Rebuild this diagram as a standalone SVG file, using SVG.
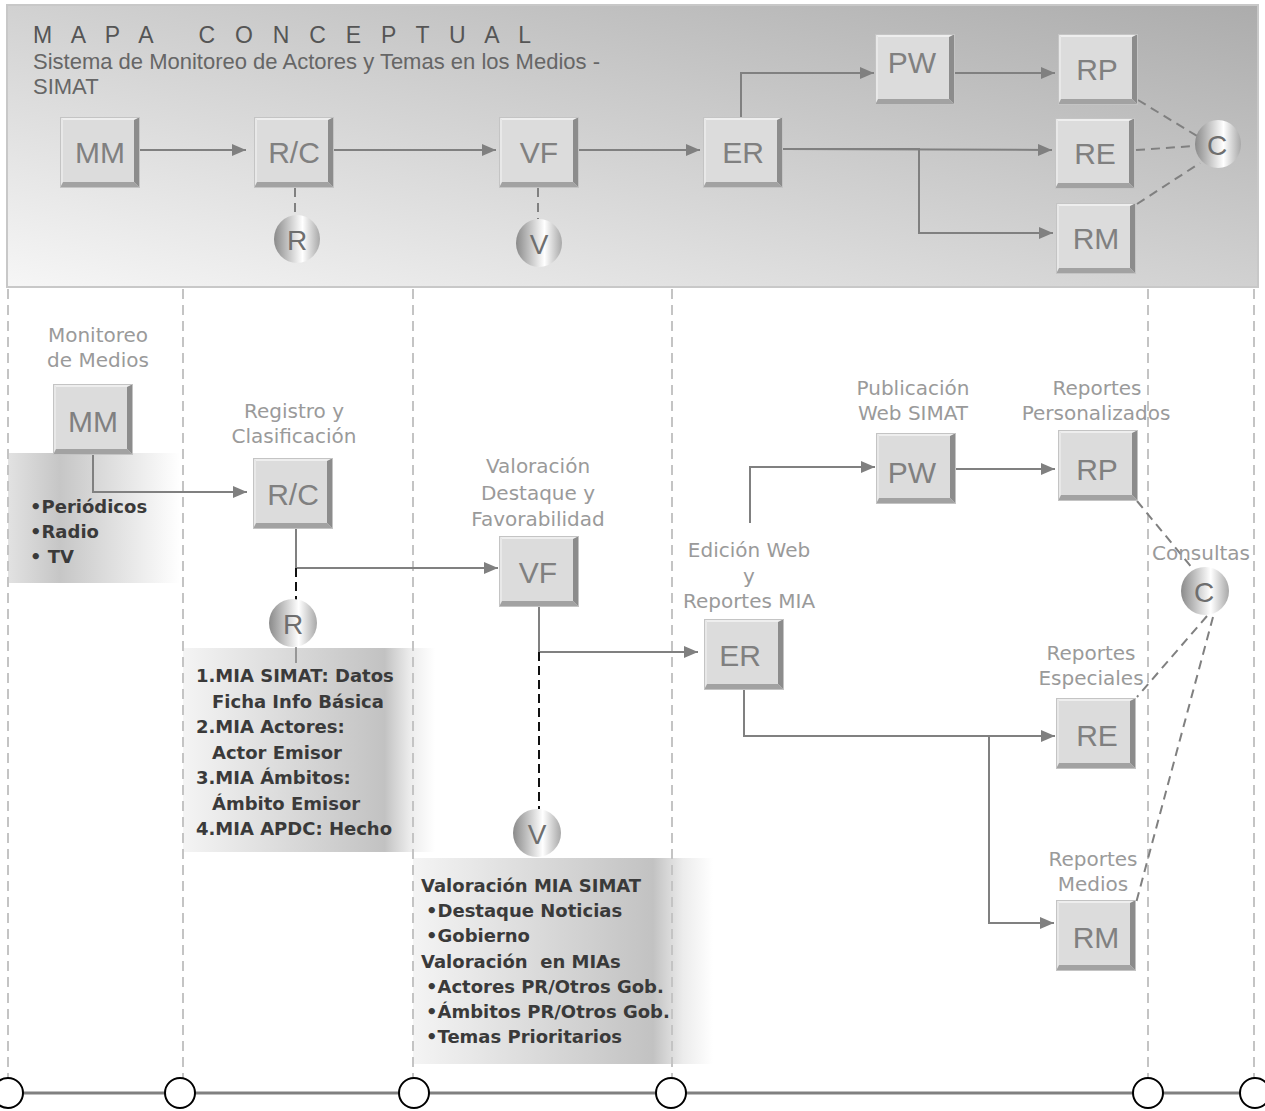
<svg xmlns="http://www.w3.org/2000/svg" xmlns:xlink="http://www.w3.org/1999/xlink" width="1265" height="1111" viewBox="0 0 1265 1111">
<style>
.bt{font-family:"Liberation Sans",Arial,sans-serif;font-size:30px;fill:#808080;text-anchor:middle}
.ct{font-family:"Liberation Sans",Arial,sans-serif;font-size:28px;fill:#6e6e6e;text-anchor:middle}
.lb{font-family:"DejaVu Sans",sans-serif;font-size:20px;fill:#9a9a9a;text-anchor:middle}
.bd{font-family:"DejaVu Sans",sans-serif;font-size:18px;font-weight:bold;fill:#3a3a3a}
.cn{fill:none;stroke:#808080;stroke-width:2}
.ar{marker-end:url(#arr)}
.dg{fill:none;stroke:#808080;stroke-width:2;stroke-dasharray:9 6}
.dk{fill:none;stroke:#111;stroke-width:2;stroke-dasharray:9 5}
.ln{fill:none;stroke:#c4c4c4;stroke-width:2;stroke-dasharray:10 6}
</style>
<defs>
<linearGradient id="hdr" x1="0" y1="1" x2="1" y2="0">
<stop offset="0" stop-color="#f6f6f6"/><stop offset="1" stop-color="#acacac"/>
</linearGradient>
<linearGradient id="cyl" x1="0" y1="0" x2="1" y2="0">
<stop offset="0" stop-color="#8a8a8a"/><stop offset="0.62" stop-color="#ffffff"/><stop offset="1" stop-color="#a8a8a8"/>
</linearGradient>
<linearGradient id="pnl" x1="0" y1="0" x2="1" y2="0">
<stop offset="0" stop-color="#f4f4f4"/><stop offset="0.8" stop-color="#c2c2c2"/><stop offset="0.9" stop-color="#ececec"/><stop offset="1" stop-color="#ffffff"/>
</linearGradient>
<linearGradient id="pnl2" x1="0" y1="0" x2="1" y2="0">
<stop offset="0" stop-color="#e2e2e2"/><stop offset="0.3" stop-color="#c6c6c6"/><stop offset="1" stop-color="#ffffff"/>
</linearGradient>
<marker id="arr" viewBox="0 0 14 12" refX="14" refY="6" markerWidth="14" markerHeight="12" markerUnits="userSpaceOnUse" orient="auto">
<path d="M0,0 L14,6 L0,12 z" fill="#808080"/>
</marker>
<g id="bx">
<rect width="80" height="71" fill="#dcdcdc"/>
<polygon points="0,0 80,0 76,3 3,3" fill="#eeeeee"/>
<polygon points="0,0 3,3 3,66 0,71" fill="#e8e8e8"/>
<polygon points="74,3 80,0 80,71 74,65" fill="#8c8c8c"/>
<polygon points="0,71 80,71 74,65 3,65" fill="#a2a2a2"/>
<rect x="0.5" y="0.5" width="79" height="70" fill="none" stroke="#c4c4c4" stroke-width="1"/>
</g>
</defs>

<rect width="1265" height="1111" fill="#ffffff"/>

<!-- header panel -->
<g id="header">
<rect x="7" y="5" width="1251" height="282" fill="url(#hdr)" stroke="#c8c8c8" stroke-width="2"/>
<text x="33" y="43" textLength="498" lengthAdjust="spacing" xml:space="preserve" style="font-family:'Liberation Sans',Arial,sans-serif;font-size:23px;fill:#555">M A P A   C O N C E P T U A L</text>
<text x="33" y="69" style="font-family:'Liberation Sans',Arial,sans-serif;font-size:22px;fill:#666">Sistema de Monitoreo de Actores y Temas en los Medios -</text>
<text x="33" y="94" style="font-family:'Liberation Sans',Arial,sans-serif;font-size:22px;fill:#666">SIMAT</text>
</g>

<!-- background panels -->
<g id="panels">
<rect x="8" y="453" width="172" height="130" fill="url(#pnl2)"/>
<rect x="183" y="648" width="252" height="204" fill="url(#pnl)"/>
<rect x="413" y="858" width="300" height="206" fill="url(#pnl)"/>
</g>

<!-- lanes -->
<g id="lanes">
<line class="ln" x1="8" y1="289" x2="8" y2="1078"/>
<line class="ln" x1="183" y1="289" x2="183" y2="1078"/>
<line class="ln" x1="413" y1="289" x2="413" y2="1078"/>
<line class="ln" x1="672" y1="289" x2="672" y2="1078"/>
<line class="ln" x1="1148" y1="289" x2="1148" y2="1078"/>
<line class="ln" x1="1254" y1="289" x2="1254" y2="1078"/>
<line x1="8" y1="1093" x2="1254" y2="1093" stroke="#808080" stroke-width="3"/>
<circle cx="8" cy="1093" r="15" fill="#fff" stroke="#000" stroke-width="2"/>
<circle cx="180" cy="1093" r="15" fill="#fff" stroke="#000" stroke-width="2"/>
<circle cx="414" cy="1093" r="15" fill="#fff" stroke="#000" stroke-width="2"/>
<circle cx="671" cy="1093" r="15" fill="#fff" stroke="#000" stroke-width="2"/>
<circle cx="1148" cy="1093" r="15" fill="#fff" stroke="#000" stroke-width="2"/>
<circle cx="1255" cy="1093" r="15" fill="#fff" stroke="#000" stroke-width="2"/>
</g>

<!-- connectors -->
<g id="connectors">
<line class="cn ar" x1="139" y1="150" x2="246" y2="150"/>
<line class="cn ar" x1="334" y1="150" x2="496" y2="150"/>
<line class="cn ar" x1="579" y1="150" x2="700" y2="150"/>
<polyline class="cn ar" points="741,117 741,73 874,73"/>
<line class="cn ar" x1="955" y1="73" x2="1055" y2="73"/>
<polyline class="cn ar" points="783,149 1052,150"/>
<polyline class="cn ar" points="783,149 919,149 919,233 1053,233"/>
<line class="dg" x1="295" y1="188" x2="295" y2="215"/>
<line class="dg" x1="538" y1="188" x2="538" y2="219"/>
<line class="dg" x1="1138" y1="100" x2="1197" y2="136"/>
<line class="dg" x1="1136" y1="150" x2="1195" y2="146"/>
<line class="dg" x1="1137" y1="204" x2="1200" y2="163"/>

<polyline class="cn ar" points="93,455 93,492 247,492"/>
<polyline class="cn ar" points="296,529 296,568 498,568"/>
<line class="dk" x1="296" y1="568" x2="296" y2="600"/>
<line x1="296" y1="647" x2="296" y2="663" stroke="#808080" stroke-width="1.5"/>
<polyline class="cn ar" points="539,607 539,652 698,652"/>
<line class="dk" x1="539" y1="652" x2="539" y2="809"/>
<polyline class="cn ar" points="750,523 750,467 875,467"/>
<line class="cn ar" x1="955" y1="469" x2="1055" y2="469"/>
<polyline class="cn ar" points="744,690 744,736 1055,736"/>
<polyline class="cn ar" points="989,736 989,923 1054,923"/>
<line class="dg" x1="1137" y1="501" x2="1193" y2="569"/>
<line class="dg" x1="1207" y1="616" x2="1137" y2="697"/>
<line class="dg" x1="1213" y1="617" x2="1136" y2="903"/>
</g>

<!-- header nodes -->
<g id="h-MM"><use xlink:href="#bx" x="60" y="117"/><text class="bt" x="100" y="163">MM</text></g>
<g id="h-RC"><use xlink:href="#bx" x="254" y="117"/><text class="bt" x="294" y="163">R/C</text></g>
<g id="h-VF"><use xlink:href="#bx" x="499" y="117"/><text class="bt" x="539" y="163">VF</text></g>
<g id="h-ER"><use xlink:href="#bx" x="703" y="117"/><text class="bt" x="743" y="163">ER</text></g>
<g id="h-PW"><use xlink:href="#bx" x="875" y="34"/><text class="bt" x="912" y="73">PW</text></g>
<g id="h-RP"><use xlink:href="#bx" x="1058" y="34"/><text class="bt" x="1097" y="80">RP</text></g>
<g id="h-RE"><use xlink:href="#bx" x="1055" y="118"/><text class="bt" x="1095" y="164">RE</text></g>
<g id="h-RM"><use xlink:href="#bx" x="1056" y="203"/><text class="bt" x="1096" y="249">RM</text></g>
<g id="h-R"><ellipse cx="297" cy="239" rx="23" ry="24" fill="url(#cyl)"/><text class="ct" x="297" y="250">R</text></g>
<g id="h-V"><ellipse cx="539" cy="243" rx="23" ry="24" fill="url(#cyl)"/><text class="ct" x="539" y="254">V</text></g>
<g id="h-C"><ellipse cx="1218" cy="144" rx="23" ry="24" fill="url(#cyl)"/><text class="ct" x="1217" y="155">C</text></g>

<!-- main nodes -->
<g id="MM">
<text class="lb" x="98" y="342">Monitoreo</text>
<text class="lb" x="98" y="367">de Medios</text>
<use xlink:href="#bx" x="53" y="384"/><text class="bt" x="93" y="432">MM</text>
<text class="bd" x="30" y="513">•Periódicos</text>
<text class="bd" x="30" y="538">•Radio</text>
<text class="bd" x="30" y="563">• TV</text>
</g>
<g id="RC">
<text class="lb" x="294" y="418">Registro y</text>
<text class="lb" x="294" y="443">Clasificación</text>
<use xlink:href="#bx" x="253" y="458"/><text class="bt" x="293" y="505">R/C</text>
</g>
<g id="R">
<circle cx="293" cy="623" r="24" fill="url(#cyl)"/><text class="ct" x="293" y="634">R</text>
<text class="bd" x="196" y="682">1.MIA SIMAT: Datos</text>
<text class="bd" x="212" y="708">Ficha Info Básica</text>
<text class="bd" x="196" y="733">2.MIA Actores:</text>
<text class="bd" x="212" y="759">Actor Emisor</text>
<text class="bd" x="196" y="784">3.MIA Ámbitos:</text>
<text class="bd" x="212" y="810">Ámbito Emisor</text>
<text class="bd" x="196" y="835">4.MIA APDC: Hecho</text>
</g>
<g id="VF">
<text class="lb" x="538" y="473">Valoración</text>
<text class="lb" x="538" y="500">Destaque y</text>
<text class="lb" x="538" y="526">Favorabilidad</text>
<use xlink:href="#bx" x="499" y="536"/><text class="bt" x="538" y="583">VF</text>
</g>
<g id="V">
<circle cx="537" cy="833" r="24" fill="url(#cyl)"/><text class="ct" x="537" y="844">V</text>
<text class="bd" x="421" y="892">Valoración MIA SIMAT</text>
<text class="bd" x="426" y="917">•Destaque Noticias</text>
<text class="bd" x="426" y="942">•Gobierno</text>
<text class="bd" x="421" y="968" xml:space="preserve">Valoración  en MIAs</text>
<text class="bd" x="426" y="993">•Actores PR/Otros Gob.</text>
<text class="bd" x="426" y="1018">•Ámbitos PR/Otros Gob.</text>
<text class="bd" x="426" y="1043">•Temas Prioritarios</text>
</g>
<g id="ER">
<text class="lb" x="749" y="557">Edición Web</text>
<text class="lb" x="749" y="583">y</text>
<text class="lb" x="749" y="608">Reportes MIA</text>
<use xlink:href="#bx" x="704" y="619"/><text class="bt" x="740" y="666">ER</text>
</g>
<g id="PW">
<text class="lb" x="913" y="395">Publicación</text>
<text class="lb" x="913" y="420">Web SIMAT</text>
<use xlink:href="#bx" x="876" y="433"/><text class="bt" x="912" y="483">PW</text>
</g>
<g id="RP">
<text class="lb" x="1097" y="395">Reportes</text>
<text class="lb" x="1096" y="420">Personalizados</text>
<use xlink:href="#bx" x="1058" y="430"/><text class="bt" x="1097" y="480">RP</text>
</g>
<g id="C">
<text class="lb" x="1201" y="560">Consultas</text>
<circle cx="1205" cy="591" r="24" fill="url(#cyl)"/><text class="ct" x="1204" y="602">C</text>
</g>
<g id="RE">
<text class="lb" x="1091" y="660">Reportes</text>
<text class="lb" x="1091" y="685">Especiales</text>
<use xlink:href="#bx" x="1056" y="698"/><text class="bt" x="1097" y="746">RE</text>
</g>
<g id="RM">
<text class="lb" x="1093" y="866">Reportes</text>
<text class="lb" x="1093" y="891">Medios</text>
<use xlink:href="#bx" x="1056" y="900"/><text class="bt" x="1096" y="948">RM</text>
</g>
</svg>
